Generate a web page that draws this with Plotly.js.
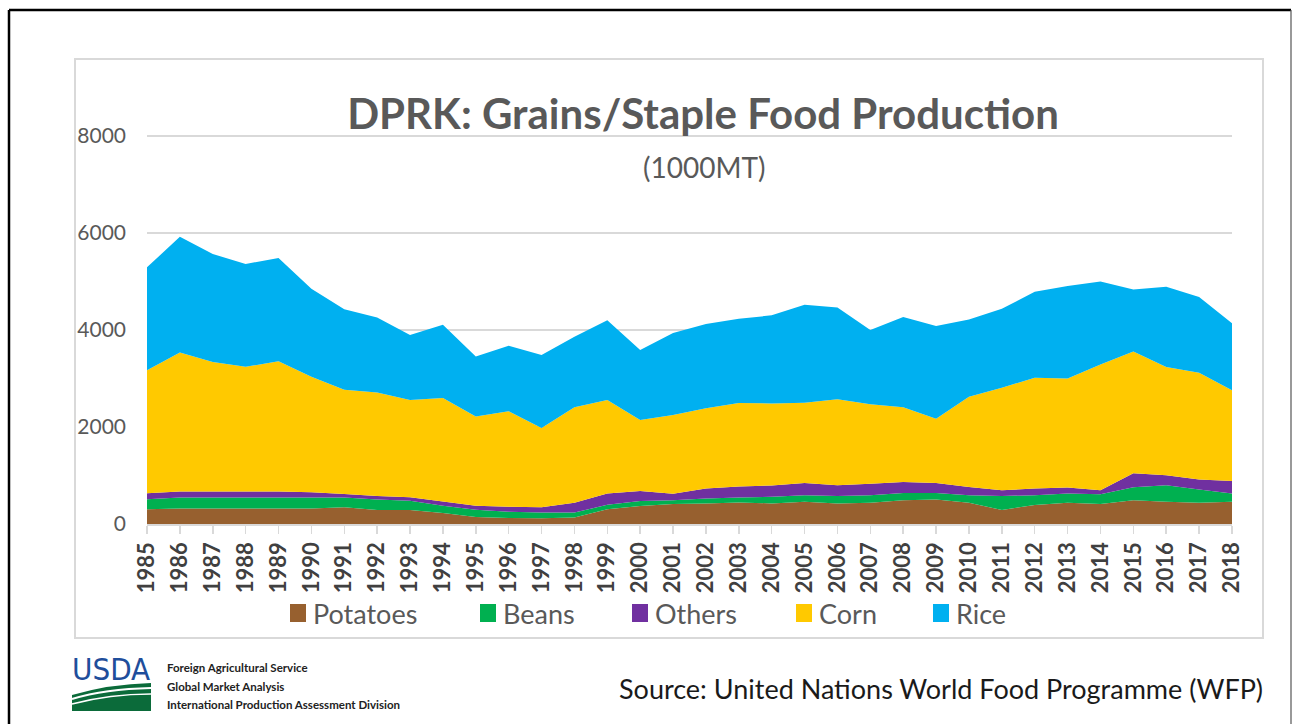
<!DOCTYPE html>
<html>
<head>
<meta charset="utf-8">
<script src="https://cdn.plot.ly/plotly-3.0.1.min.js"></script>
<style>
  html, body { margin: 0; padding: 0; background: #ffffff; }
  #chart { width: 1293px; height: 724px; }
</style>
</head>
<body>
<div id="chart"></div>
<script>
// ---------------- DATA (1000 MT) ----------------
const years = [1985,1986,1987,1988,1989,1990,1991,1992,1993,1994,1995,1996,1997,1998,1999,2000,2001,2002,2003,2004,2005,2006,2007,2008,2009,2010,2011,2012,2013,2014,2015,2016,2017,2018];
const tickLabels = years.map(String);
const seriesNames = ["Potatoes", "Beans", "Others", "Corn", "Rice"];
const potatoes = [305,320,320,320,320,320,345,290,290,225,145,125,120,135,305,370,410,425,445,425,460,425,440,490,505,440,290,390,440,410,490,460,440,460];
const beans    = [205,225,225,225,225,225,200,215,190,150,150,130,115,100,90,105,80,100,100,135,135,150,155,150,135,155,285,205,190,205,270,340,270,170];
const others   = [125,125,125,125,125,110,75,70,70,90,80,100,110,205,235,205,135,205,230,235,250,225,235,225,205,170,120,135,120,80,285,205,205,255];
const corn     = [2535,2865,2670,2570,2685,2380,2145,2135,2005,2130,1840,1970,1635,1965,1925,1465,1620,1655,1720,1690,1655,1770,1640,1540,1325,1860,2115,2285,2250,2590,2510,2230,2200,1870];
const rice     = [2120,2385,2225,2120,2130,1815,1660,1545,1340,1510,1235,1350,1505,1455,1645,1440,1690,1735,1735,1815,2020,1890,1530,1860,1910,1590,1625,1770,1905,1715,1280,1655,1565,1385];
const yTicks = [0, 2000, 4000, 6000, 8000];

// ---------------- STYLE ----------------
const colors = ["#97602F", "#00B050", "#7030A0", "#FFC900", "#00B0F0"];
const seriesValues = [potatoes, beans, others, corn, rice];
const FONT = "Lato, 'Open Sans', sans-serif";

// plot area in pixels (y range extends above 8000 so its gridline is drawn)
const W = 1293, H = 724, L = 147, R = 1232, T = 131, B = 524;
const YMAX = 8100;
const fx = x => (x - L) / (R - L);
const fy = y => (B - y) / (B - T);

const traces = seriesNames.map((name, i) => ({
  type: "scatter",
  x: years,
  y: seriesValues[i],
  name: name,
  stackgroup: "one",
  mode: "none",
  fillcolor: colors[i],
  showlegend: false,
  hoverinfo: "x+y+name"
}));

const shapes = [];
const annotations = [];

// outer black frame
shapes.push({type: "line", xref: "paper", yref: "paper", x0: fx(9), x1: fx(1291), y0: fy(10), y1: fy(10), line: {color: "#000000", width: 2.5}});
shapes.push({type: "line", xref: "paper", yref: "paper", x0: fx(9), x1: fx(9), y0: fy(10), y1: fy(730), line: {color: "#000000", width: 2.5}});
shapes.push({type: "line", xref: "paper", yref: "paper", x0: fx(1291), x1: fx(1291), y0: fy(10), y1: fy(730), line: {color: "#555555", width: 1.2}});
// chart area grey box
shapes.push({type: "rect", xref: "paper", yref: "paper", x0: fx(75), x1: fx(1263), y0: fy(638), y1: fy(59), line: {color: "#d9d9d9", width: 2}, fillcolor: "rgba(0,0,0,0)", layer: "below"});

// legend (manual, swatch + label)
const legendSwatchX = [290, 480, 632, 796, 933];
seriesNames.forEach((name, i) => {
  const x0 = legendSwatchX[i];
  shapes.push({type: "rect", xref: "paper", yref: "paper", x0: fx(x0), x1: fx(x0 + 16), y0: fy(622), y1: fy(604), line: {width: 0}, fillcolor: colors[i]});
  annotations.push({xref: "paper", yref: "paper", x: fx(x0 + 21), y: fy(613), xanchor: "left", yanchor: "middle", showarrow: false, text: name, font: {family: FONT, size: 27, color: "#595959"}});
});

// subtitle
annotations.push({xref: "paper", yref: "paper", x: fx(704), y: fy(167), xanchor: "center", yanchor: "middle", showarrow: false, text: "(1000MT)", font: {family: FONT, size: 28, color: "#595959"}});

// footer
annotations.push({xref: "paper", yref: "paper", x: fx(1265), y: fy(688), xanchor: "right", yanchor: "middle", showarrow: false, text: "Source: United Nations World Food Programme (WFP)", font: {family: FONT, size: 27, color: "#1a1a1a"}});
const usdaLines = ["Foreign Agricultural Service", "Global Market Analysis", "International Production Assessment Division"];
const usdaY = [667, 686, 704];
usdaLines.forEach((t, i) => {
  annotations.push({xref: "paper", yref: "paper", x: fx(165), y: fy(usdaY[i]), xanchor: "left", yanchor: "middle", showarrow: false, text: "<b>" + t + "</b>", font: {family: FONT, size: 11.5, color: "#222222"}});
});
annotations.push({xref: "paper", yref: "paper", x: fx(111), y: fy(669), xanchor: "center", yanchor: "middle", showarrow: false, text: "USDA", font: {family: "'DejaVu Sans Condensed', 'Liberation Sans Narrow', 'Liberation Sans', sans-serif", size: 31, color: "#1F4E9B"}});
// USDA green field
const P = (x, y) => fx(x) + "," + fy(y);
shapes.push({type: "path", xref: "paper", yref: "paper", path: "M" + P(72, 711) + " L" + P(151, 711) + " L" + P(151, 683) + " Q" + P(110, 684) + " " + P(72, 695) + " Z", fillcolor: "#0B6B3A", line: {width: 0}});
shapes.push({type: "path", xref: "paper", yref: "paper", path: "M" + P(72, 699) + " Q" + P(105, 689) + " " + P(151, 688), line: {color: "#ffffff", width: 2}});
shapes.push({type: "path", xref: "paper", yref: "paper", path: "M" + P(72, 704) + " Q" + P(110, 694) + " " + P(151, 694), line: {color: "#ffffff", width: 1.5}});

const layout = {
  width: W,
  height: H,
  margin: {l: L, r: W - R, t: T, b: H - B, pad: 0},
  paper_bgcolor: "#ffffff",
  plot_bgcolor: "#ffffff",
  font: {family: FONT, color: "#595959"},
  showlegend: false,
  title: {
    text: "<b>DPRK: Grains/Staple Food Production</b>",
    font: {family: FONT, size: 42, color: "#595959"},
    x: 703 / W, xanchor: "center",
    y: 1 - 114 / H, yanchor: "middle",
    xref: "container", yref: "container"
  },
  xaxis: {
    range: [1985, 2018],
    tickmode: "array",
    tickvals: years,
    ticktext: tickLabels,
    tickangle: -90,
    ticks: "outside",
    ticklen: 8,
    tickwidth: 1.5,
    tickcolor: "#d9d9d9",
    showline: true,
    linecolor: "#d9d9d9",
    linewidth: 1.5,
    showgrid: false,
    zeroline: false,
    tickfont: {family: FONT, size: 22, color: "#404040", weight: "bold"},
    fixedrange: true
  },
  yaxis: {
    range: [0, YMAX],
    tickmode: "array",
    tickvals: yTicks,
    ticktext: yTicks.map(String),
    showgrid: true,
    gridcolor: "#d9d9d9",
    gridwidth: 2,
    zeroline: false,
    showline: false,
    ticks: "",
    ticklabelstandoff: 20,
    tickfont: {family: FONT, size: 21, color: "#595959"},
    fixedrange: true
  },
  shapes: shapes,
  annotations: annotations
};

Plotly.newPlot("chart", traces, layout, {displayModeBar: false, staticPlot: true});
</script>
</body>
</html>
